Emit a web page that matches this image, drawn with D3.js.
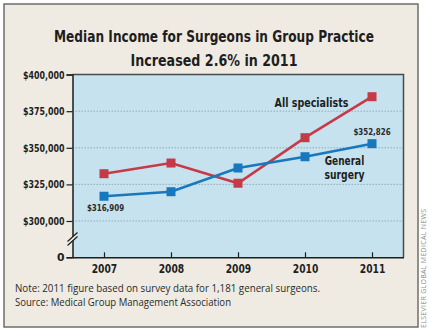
<!DOCTYPE html>
<html>
<head>
<meta charset="utf-8">
<script src="https://cdn.jsdelivr.net/npm/d3@7/dist/d3.min.js"></script>
<style>
  html, body { margin: 0; padding: 0; background: #ffffff; }
  svg { display: block; }
  .cond { font-family: "DejaVu Sans", sans-serif; }
  .reg { font-family: "Open Sans", "Liberation Sans", sans-serif; }
</style>
</head>
<body>
<svg id="chart" width="430" height="332"></svg>
<script>
// Median income data (US$)
const years = ["2007", "2008", "2009", "2010", "2011"];
const allSpecialists = [332300, 339600, 325800, 356900, 384900];
const generalSurgery = [316909, 320000, 336200, 343900, 352826];
const yTicks = [0, 300000, 325000, 350000, 375000, 400000];
const gridTicks = [300000, 325000, 350000, 375000];

const svg = d3.select("#chart");
const ink = "#1e1e1e";

// Fit a bold face into a fixed width for a condensed look
function fitWidth(sel, w) {
  return sel.attr("textLength", w).attr("lengthAdjust", "spacingAndGlyphs");
}

// Frame
svg.append("rect").attr("x", 4).attr("y", 4).attr("width", 414).attr("height", 323)
  .attr("fill", "#efebe2").attr("stroke", "#6e6e6e").attr("stroke-width", 1.5);

// Title
const titleLines = [
  { text: "Median Income for Surgeons in Group Practice", w: 320 },
  { text: "Increased 2.6% in 2011", w: 167 }
];
svg.append("g").selectAll("text").data(titleLines).join("text")
  .attr("class", "cond").attr("x", 214).attr("y", (d, i) => 42 + i * 23.5)
  .attr("text-anchor", "middle").attr("font-weight", "bold").attr("font-size", 16.5)
  .attr("fill", ink).attr("textLength", d => d.w).attr("lengthAdjust", "spacingAndGlyphs")
  .text(d => d.text);

const plot = { left: 72.5, right: 403.5, top: 74.6, bottom: 257.3 };

const x = d3.scalePoint().domain(years).range([plot.left, plot.right]).padding(0.47);
// Broken axis: 0 sits below the $300,000 line
const y = d3.scaleLinear().domain([0, 300000, 400000]).range([plot.bottom, 221, plot.top]);

// Plot background
svg.append("rect").attr("x", plot.left).attr("y", plot.top)
  .attr("width", plot.right - plot.left).attr("height", plot.bottom - plot.top)
  .attr("fill", "#c6e2ef");

// Gridlines
svg.append("g").selectAll("line").data(gridTicks).join("line")
  .attr("x1", plot.left).attr("x2", plot.right)
  .attr("y1", d => y(d)).attr("y2", d => y(d))
  .attr("stroke", "#93adba").attr("stroke-width", 1).attr("stroke-dasharray", "1.5,1.5");

// Top and right border of the plot
svg.append("path")
  .attr("d", `M${plot.left},${plot.top}H${plot.right}V${plot.bottom}`)
  .attr("fill", "none").attr("stroke", "#4a4a4a").attr("stroke-width", 1.5);

// Y axis
const fmt = d3.format(",");
const yAxis = svg.append("g").attr("transform", `translate(${plot.left},0)`)
  .call(d3.axisLeft(y).tickValues(yTicks).tickSize(6).tickPadding(2)
    .tickFormat(d => d === 0 ? "0" : "$" + fmt(d)));
yAxis.select(".domain").attr("stroke", ink).attr("stroke-width", 1.5);
yAxis.selectAll(".tick line").attr("stroke", ink).attr("stroke-width", 1.2);
yAxis.selectAll(".tick text").attr("class", "cond")
  .attr("font-size", 10.8).attr("font-weight", "bold").attr("fill", ink);
fitWidth(yAxis.selectAll(".tick text").filter(d => d !== 0), 41.5);

// X axis (ticks point up into the plot)
const xAxis = svg.append("g").attr("transform", `translate(0,${plot.bottom})`)
  .call(d3.axisBottom(x).tickSizeInner(-5).tickSizeOuter(0).tickPadding(7));
xAxis.select(".domain").attr("stroke", ink).attr("stroke-width", 1.5);
xAxis.selectAll(".tick line").attr("stroke", ink).attr("stroke-width", 1.2);
fitWidth(xAxis.selectAll(".tick text").attr("class", "cond")
  .attr("font-size", 12.5).attr("font-weight", "bold").attr("fill", ink), 25.5);

// Axis break marks
const by = 238.5;
svg.append("path")
  .attr("d", `M${plot.left - 4},${by + 2} L${plot.left + 4},${by - 5} L${plot.left + 4},${by - 1} L${plot.left - 4},${by + 6} Z`)
  .attr("fill", "#efebe2");
svg.append("path")
  .attr("d", `M${plot.left - 5},${by + 3} L${plot.left + 5},${by - 6} M${plot.left - 5},${by + 7} L${plot.left + 5},${by - 2}`)
  .attr("stroke", ink).attr("stroke-width", 1.2).attr("fill", "none");

// Series
const line = d3.line().x((d, i) => x(years[i])).y(d => y(d));
function drawSeries(values, color) {
  svg.append("path").datum(values).attr("d", line)
    .attr("fill", "none").attr("stroke", color).attr("stroke-width", 2.6);
  svg.append("g").selectAll("rect").data(values).join("rect")
    .attr("x", (d, i) => x(years[i]) - 4.5).attr("y", d => y(d) - 4.5)
    .attr("width", 9).attr("height", 9).attr("fill", color);
}
drawSeries(allSpecialists, "#c63a48");
drawSeries(generalSurgery, "#1778bd");

// Series labels
const seriesLabels = [
  { text: "All specialists", x: 311.5, y: 107.3, w: 74 },
  { text: "General", x: 344.5, y: 165, w: 39.5 },
  { text: "surgery", x: 344.5, y: 178.5, w: 40 }
];
svg.append("g").selectAll("text").data(seriesLabels).join("text")
  .attr("class", "cond").attr("x", d => d.x).attr("y", d => d.y)
  .attr("text-anchor", "middle").attr("font-weight", "bold").attr("font-size", 13)
  .attr("fill", ink).attr("textLength", d => d.w).attr("lengthAdjust", "spacingAndGlyphs")
  .text(d => d.text);

// Value labels
const vfmt = d => "$" + fmt(d);
const valueLabels = [
  { v: generalSurgery[0], x: x("2007") + 1.5, y: y(generalSurgery[0]) + 15 },
  { v: generalSurgery[4], x: x("2011"), y: y(generalSurgery[4]) - 8.5 }
];
fitWidth(svg.append("g").selectAll("text").data(valueLabels).join("text")
  .attr("class", "cond").attr("x", d => d.x).attr("y", d => d.y)
  .attr("text-anchor", "middle").attr("font-size", 9.5).attr("font-weight", "bold")
  .attr("fill", "#2a2a2a").text(d => vfmt(d.v)), 37.2);

// Notes
const notes = [
  { text: "Note: 2011 figure based on survey data for 1,181 general surgeons.", w: 305 },
  { text: "Source: Medical Group Management Association", w: 216 }
];
svg.append("g").selectAll("text").data(notes).join("text")
  .attr("class", "reg").attr("x", 15).attr("y", (d, i) => 292 + i * 14)
  .attr("font-size", 10.6).attr("fill", "#2a2a2a")
  .attr("textLength", d => d.w).attr("lengthAdjust", "spacingAndGlyphs")
  .text(d => d.text);

// Credit line
svg.append("text").attr("class", "reg")
  .attr("transform", "translate(426,328) rotate(-90)")
  .attr("font-size", 7).attr("fill", "#8a8a8a").attr("letter-spacing", 0.3)
  .text("ELSEVIER GLOBAL MEDICAL NEWS");
</script>
</body>
</html>
